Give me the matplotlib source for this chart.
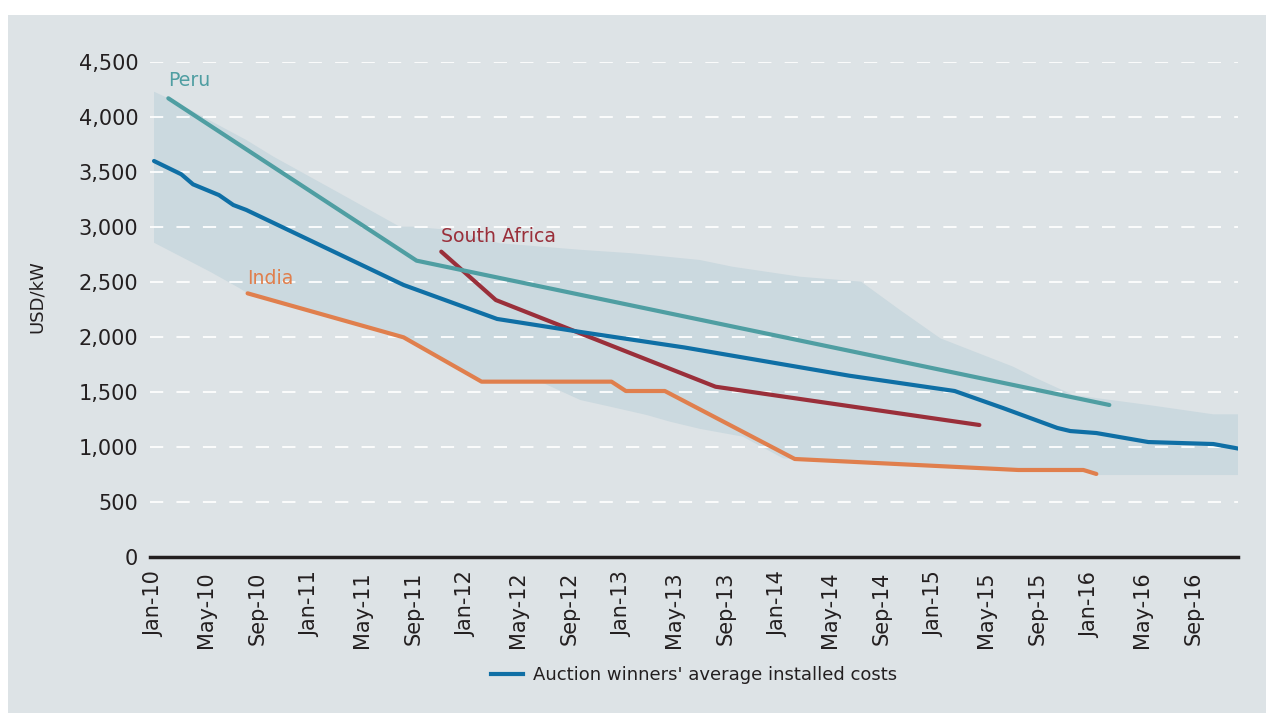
import matplotlib
matplotlib.use("Agg")
import matplotlib.pyplot as plt
from matplotlib.patches import Rectangle
from matplotlib.lines import Line2D

plt.rcParams['font.family'] = ['DejaVu Sans']

# x values: months since Jan 2010
tick_labels = ["Jan-10", "May-10", "Sep-10", "Jan-11", "May-11", "Sep-11", "Jan-12",
               "May-12", "Sep-12", "Jan-13", "May-13", "Sep-13", "Jan-14", "May-14",
               "Sep-14", "Jan-15", "May-15", "Sep-15", "Jan-16", "May-16", "Sep-16"]
tick_months = [4 * i for i in range(len(tick_labels))]

avg_x = [0, 2.1, 3.0, 5.0, 6.1, 7.1, 19.2, 26.4, 32.8, 40.8, 53.5, 61.6, 65.3, 69.5, 70.5,
         72.5, 76.5, 81.5, 83.6]
avg_y = [3600, 3479, 3388, 3290, 3200, 3155, 2473, 2164, 2046, 1905, 1648, 1509, 1355, 1173,
         1145, 1127, 1045, 1027, 982]

peru_x = [1.1, 20.2, 73.5]
peru_y = [4170, 2694, 1382]

sa_x = [22.1, 26.3, 43.2, 63.5]
sa_y = [2776, 2336, 1548, 1200]

india_x = [7.2, 19.2, 25.2, 35.2, 36.3, 39.3, 49.3, 66.5, 71.5, 72.5]
india_y = [2397, 1997, 1594, 1594, 1509, 1509, 891, 791, 791, 755]

band_upper_x = [0, 1.1, 7.1, 9.2, 14.3, 18.9, 19.9, 22.8, 26.6, 33, 36.8, 42, 44.5, 49.7,
                54.4, 57.4, 60.5, 66.1, 67.9, 70.7, 76.5, 81.5, 83.6]
band_upper_y = [4230, 4170, 3791, 3639, 3306, 3003, 3003, 2973, 2852, 2791, 2761, 2700, 2639,
                2548, 2503, 2245, 1988, 1730, 1624, 1473, 1382, 1297, 1297]
band_lower_x = [0, 4.3, 6.6, 7.2, 19.2, 25.2, 29.7, 32.8, 35.3, 37.9, 39.7, 42, 45.3, 48.4,
                49.3, 66.5, 71.5, 72.5, 83.6]
band_lower_y = [2857, 2594, 2442, 2397, 1997, 1594, 1594, 1427, 1361, 1291, 1230, 1165, 1094,
                897, 891, 791, 791, 745, 745]

BG = "#dde3e6"
BAND = "#cbd9df"
BLUE = "#0f6fa5"
TEAL = "#4f9ea2"
RED = "#9a2f3a"
ORANGE = "#e07f4d"
TXT = "#231f20"

fig = plt.figure(figsize=(12.66, 7.13), dpi=100)
fig.patch.set_facecolor("white")
fig.add_artist(Rectangle((8 / 1266, 0), 1 - 8 / 1266, 1 - 15 / 713,
                         transform=fig.transFigure, facecolor=BG, edgecolor="none", zorder=-10))

ax = fig.add_axes([150 / 1266, 1 - 557 / 713, (1238 - 150) / 1266, (557 - 62) / 713])
ax.set_facecolor("none")
ax.set_xlim(-0.31, 83.4)
ax.set_ylim(0, 4500)

# band polygon
poly_x = band_upper_x + band_lower_x[::-1]
poly_y = band_upper_y + band_lower_y[::-1]
ax.fill(poly_x, poly_y, color=BAND, lw=0, zorder=1)

for yv in range(500, 4501, 500):
    ax.axhline(yv, color="white", lw=1.4, dashes=(6.8, 6.8), zorder=2, alpha=0.9)

lw = 3.0
ax.plot(india_x, india_y, color=ORANGE, lw=lw, zorder=3, solid_capstyle="round")
ax.plot(sa_x, sa_y, color=RED, lw=lw, zorder=3, solid_capstyle="round")
ax.plot(peru_x, peru_y, color=TEAL, lw=lw, zorder=3, solid_capstyle="round")
ax.plot(avg_x, avg_y, color=BLUE, lw=lw, zorder=4, solid_capstyle="round")

ax.text(1.1, 4250, "Peru", color=TEAL, fontsize=13.6, ha="left", va="bottom")
ax.text(7.2, 2450, "India", color=ORANGE, fontsize=13.6, ha="left", va="bottom")
ax.text(22.1, 2830, "South Africa", color=RED, fontsize=13.6, ha="left", va="bottom")

for s in ["top", "right", "left"]:
    ax.spines[s].set_visible(False)
ax.spines["bottom"].set_color(TXT)
ax.spines["bottom"].set_linewidth(2.5)
ax.spines["bottom"].set_zorder(5)

ax.set_yticks(range(0, 4501, 500))
ax.set_yticklabels([f"{v:,}" for v in range(0, 4501, 500)])
ax.set_xticks(tick_months)
ax.set_xticklabels(tick_labels, rotation=90)
ax.tick_params(axis="both", length=0, labelsize=15, colors=TXT)
ax.tick_params(axis="y", pad=8.5)
ax.tick_params(axis="x", pad=10.5)

fig.text(37 / 1266, 1 - 297 / 713, "USD/kW", rotation=90, ha="center", va="center",
         fontsize=13, color=TXT)

handle = Line2D([0], [0], color=BLUE, lw=3.0)
fig.legend([handle], ["Auction winners' average installed costs"],
           loc="center", bbox_to_anchor=(694 / 1266, 1 - 675 / 713), frameon=False,
           fontsize=13, handlelength=1.8, handletextpad=0.55, labelcolor=TXT)

fig.savefig("out.png", dpi=100, facecolor=fig.get_facecolor())
